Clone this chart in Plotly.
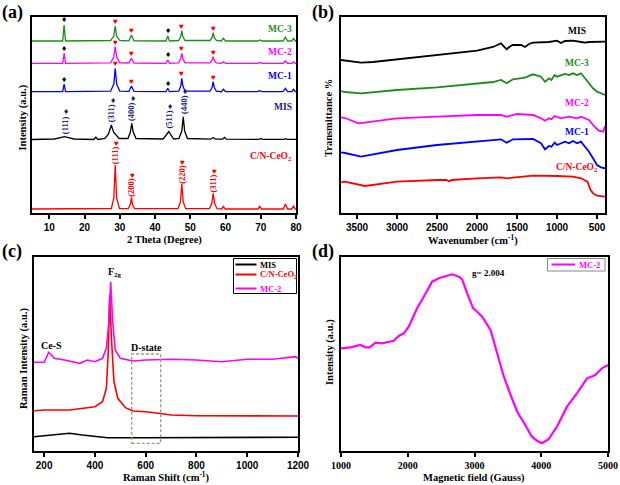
import plotly.graph_objects as go

# ---------------- (a) XRD ----------------
XRD_MC3_X = [5, 13.8, 14.2, 14.6, 27.4, 28.3, 28.7, 29.1, 30.0, 32.6, 33.3, 34.0, 43.1, 43.6, 44.1, 46.7, 47.3, 47.6, 47.9, 48.5,
             55.6, 56.2, 56.5, 56.8, 57.4, 58.8, 59.4, 60.0, 69.1, 69.7, 70.3, 76.3, 77.0, 77.6, 78.8, 79.3, 79.8, 80]
XRD_MC3_Y = [172, 172, 188, 172, 172.5, 177, 187, 177, 172.5, 172.2, 178, 172.2, 172, 177, 172, 172.5, 176.5, 182.3, 176.5, 172.5,
             172.5, 175.5, 180.3, 175.5, 172.5, 172, 174.7, 172, 172, 173, 172, 172, 175.7, 172, 172, 174.5, 172, 172]
XRD_MC2_X = XRD_MC3_X
XRD_MC2_Y = [149.7, 149.7, 159.7, 149.7, 150.2, 156, 166.3, 156, 150.2, 150, 154.7, 150, 149.7, 153, 149.7, 150.2, 154.5, 159.7, 154.5, 150.2,
             150.2, 152.8, 156.3, 152.8, 150.2, 149.7, 151.3, 149.7, 149.7, 150.7, 149.7, 149.7, 152, 149.7, 149.7, 151, 149.7, 149.7]
XRD_MC1_X = XRD_MC3_X
XRD_MC1_Y = [121.3, 121.3, 129, 121.3, 121.8, 129, 144.7, 129, 121.8, 121.6, 127, 121.6, 121.3, 124.7, 121.3, 121.8, 127, 134.7, 127, 121.8,
             121.8, 125.8, 131.3, 125.8, 121.8, 121.3, 123.7, 121.3, 121.3, 122.3, 121.3, 121.3, 124.7, 121.3, 121.3, 123.7, 121.3, 121.3]
XRD_MIS_X = [5, 11.5, 14.3, 17, 22.6, 23.2, 23.8, 25.8, 26.8, 27.6, 28.2, 28.8, 29.8, 32.3, 33.0, 33.4, 33.8, 34.6, 42.3, 43.9, 45.3,
             46.8, 47.6, 48.0, 48.4, 49.2, 55.8, 56.5, 57.2, 59.2, 59.7, 60.2, 69.5, 70.0, 70.5, 76.5, 77.0, 77.5, 80]
XRD_MIS_Y = [73.5, 74, 76.3, 74, 73.5, 75.7, 73.5, 74.5, 79, 88, 81, 78.5, 74.5, 74.5, 81, 89.7, 81, 74.5, 74, 81.3, 74,
             74.5, 82, 96.3, 82, 74.5, 73.8, 75.5, 73.8, 73.8, 75.5, 73.8, 73.6, 74.5, 73.6, 73.6, 74.3, 73.6, 73.6]
XRD_CEO2_X = [5, 27.6, 28.3, 28.7, 29.1, 29.9, 32.4, 33.0, 33.3, 33.6, 34.2, 46.5, 47.2, 47.6, 48.0, 48.7, 55.4, 56.1, 56.5, 56.9,
              57.6, 58.9, 59.4, 59.9, 69.2, 69.7, 70.2, 76.4, 77.0, 77.6, 78.8, 79.3, 79.8, 80]
XRD_CEO2_Y = [4, 4.5, 15, 48, 15, 4.5, 4.3, 8.5, 15.7, 8.5, 4.3, 4.3, 11, 29, 11, 4.3, 4.3, 9.5, 19.7, 9.5,
              4.3, 4, 6.5, 4, 4, 6.5, 4, 4, 9, 4, 4, 7, 4, 4]
CEO2_PEAKS = [28.7, 33.3, 47.6, 56.5]
CEO2_HKL = ["(111)", "(200)", "(220)", "(311)"]
MIS_PEAKS_IN_MC = [14.2, 43.6]
MIS_PEAKS = [14.3, 27.6, 33.4, 43.9, 48.0]
MIS_HKL = ["(111)", "(311)", "(400)", "(511)", "(440)"]

# ---------------- (b) FTIR ----------------
FTIR_MIS_X = [3700, 3650, 3550, 3450, 3300, 3000, 2500, 2000, 1800, 1700, 1630, 1580, 1550, 1450, 1400, 1350, 1300, 1100, 1000, 950, 900, 800, 700, 650, 600, 400]
FTIR_MIS_Y = [153, 152.5, 151, 150.3, 151, 153.7, 158, 162.3, 166, 169.7, 163.7, 167, 168, 168, 166, 169, 170.3, 171, 172.3, 170, 172, 172.3, 171, 170.3, 171, 171.3]
FTIR_MC3_X = [3700, 3650, 3450, 3000, 2500, 2000, 1800, 1700, 1630, 1550, 1400, 1300, 1200, 1150, 1100, 1070, 1030, 1000, 900, 850, 800, 750, 700, 650, 600, 550, 500, 400]
FTIR_MC3_Y = [122, 121, 119.7, 123, 125.7, 129.7, 131, 133, 129.7, 133.7, 135.3, 138.7, 136.3, 131.3, 134.7, 133, 138, 136.3, 139, 138, 139.7, 138, 139.7, 134.7, 129.7, 124.7, 121.3, 118]
FTIR_MC2_X = [3700, 3650, 3480, 3000, 2500, 2000, 1700, 1630, 1500, 1300, 1200, 1150, 1100, 1070, 1030, 950, 850, 750, 700, 600, 550, 480, 420, 400]
FTIR_MC2_Y = [95.7, 95, 89.7, 94.7, 96.3, 98, 98, 96.3, 99, 98, 94.7, 92.3, 94.7, 93.7, 97, 94.7, 96.3, 94.7, 96.3, 93, 88, 82.3, 81.3, 87]
FTIR_MC1_X = [3700, 3650, 3450, 3000, 2500, 2000, 1700, 1630, 1550, 1300, 1200, 1150, 1100, 1070, 1030, 1000, 900, 850, 800, 750, 700, 650, 600, 550, 500, 450, 400]
FTIR_MC1_Y = [60.7, 60, 56.3, 63, 68, 71.3, 73.7, 70.3, 73.7, 74, 69.7, 63.7, 67, 66.3, 70.3, 68, 71.3, 69.7, 72, 69.7, 71.3, 66.3, 61.3, 54.7, 48, 45.7, 44.7]
FTIR_CEO2_X = [3700, 3650, 3400, 3000, 2500, 2380, 2350, 2320, 2000, 1700, 1630, 1300, 1000, 800, 700, 620, 580, 550, 500, 400]
FTIR_CEO2_Y = [30.7, 31.3, 27, 31.3, 33, 33, 31.5, 33, 34.7, 35.7, 34.7, 37.3, 37, 36.3, 34.7, 31.3, 23, 19.7, 17.3, 16.3]
FTIR_LABEL_Y = {"MIS": 182, "MC-3": 150, "MC-2": 110, "MC-1": 81, "C/N-CeO<sub>2</sub>": 46}

# ---------------- (c) Raman ----------------
RAMAN_MC2_X = [160, 200, 218, 240, 280, 340, 370, 400, 430, 445, 455, 462, 470, 480, 500, 550, 600, 700, 800, 900, 1000, 1100, 1190, 1200]
RAMAN_MC2_Y = [88.7, 88.7, 98.7, 92.7, 91, 87.7, 91, 89.3, 92.7, 103, 129.3, 169.3, 129.3, 101, 92.7, 90, 91, 91.7, 91, 89.3, 91.7, 91.7, 94.3, 92.7]
RAMAN_CEO2_X = [160, 200, 300, 400, 430, 445, 452, 458, 465, 475, 490, 520, 550, 600, 650, 700, 800, 1000, 1200]
RAMAN_CEO2_Y = [40.3, 41, 41, 44.3, 49.3, 62.7, 96, 156, 113, 69.3, 52.7, 43.3, 40, 39.3, 37.7, 36, 35.3, 35, 35]
RAMAN_MIS_X = [160, 200, 280, 300, 350, 400, 450, 600, 1200]
RAMAN_MIS_Y = [14.3, 15.3, 17.7, 17.7, 16, 14.3, 13.3, 13.3, 13.7]
DSTATE_BOX = [545, 659, 7.7, 97]

# ---------------- (d) ESR ----------------
ESR_X = [1000, 1140, 1290, 1365, 1430, 1515, 1615, 1790, 1865, 1940, 2015, 2140, 2240, 2365, 2465, 2540, 2665, 2765, 2815, 2890,
         2980, 3040, 3115, 3240, 3340, 3440, 3540, 3640, 3760, 3860, 3935, 4010, 4110, 4235, 4385, 4535, 4685, 4810, 4910, 5000]
ESR_Y = [102.7, 103.7, 106, 103.7, 103.7, 108.3, 107.7, 110.3, 115, 117.7, 124.3, 142.7, 154.3, 169.3, 172.7, 174.3, 176.7, 174.3, 171.7, 157.7,
         142.7, 139.3, 134.3, 121, 97.7, 74.3, 56, 39.3, 26, 14.3, 10.3, 7.7, 11.7, 24.3, 44.3, 57.7, 72.7, 76, 82.7, 86]

GREEN, MAGENTA, BLUE, RED, BLACK = "#1c8c1c", "#ff00ff", "#0000ff", "#ff0000", "#000000"
NAVY = "#1a2380"
SERIF = "Liberation Serif"
SANS = "Liberation Sans"
W, H = 620, 485

fig = go.Figure()

def line(x, y, color, width, ax):
    fig.add_trace(go.Scatter(x=x, y=y, mode="lines", line=dict(color=color, width=width),
                             xaxis="x" + ax, yaxis="y" + ax, showlegend=False, hoverinfo="skip"))

# (a)
for xs, ys, c in [(XRD_MC3_X, XRD_MC3_Y, GREEN), (XRD_MC2_X, XRD_MC2_Y, MAGENTA), (XRD_MC1_X, XRD_MC1_Y, BLUE),
                  (XRD_MIS_X, XRD_MIS_Y, BLACK), (XRD_CEO2_X, XRD_CEO2_Y, RED)]:
    line(xs, ys, c, 1.3, "")
# (b)
for xs, ys, c in [(FTIR_MIS_X, FTIR_MIS_Y, BLACK), (FTIR_MC3_X, FTIR_MC3_Y, GREEN), (FTIR_MC2_X, FTIR_MC2_Y, MAGENTA),
                  (FTIR_MC1_X, FTIR_MC1_Y, BLUE), (FTIR_CEO2_X, FTIR_CEO2_Y, RED)]:
    line(xs, ys, c, 1.8, "2")
# (c)
line(RAMAN_MIS_X, RAMAN_MIS_Y, BLACK, 1.6, "3")
line(RAMAN_CEO2_X, RAMAN_CEO2_Y, RED, 1.6, "3")
line(RAMAN_MC2_X, RAMAN_MC2_Y, MAGENTA, 1.6, "3")
# (d)
line(ESR_X, ESR_Y, MAGENTA, 2.2, "4")

anns = []
shapes = []

def ann(text, x, y, size=10, color="black", xref="paper", yref="paper", angle=0, xa="center", ya="middle", family=SERIF):
    if xref == "paper":
        x = x / W
    if yref == "paper":
        y = 1 - y / H
    anns.append(dict(text=text, x=x, y=y, xref=xref, yref=yref, showarrow=False, textangle=angle,
                     xanchor=xa, yanchor=ya, font=dict(family=family, size=size, color=color, weight="bold")))

# markers and labels for (a)
for xs, ys in [(XRD_MC3_X, XRD_MC3_Y), (XRD_MC2_X, XRD_MC2_Y), (XRD_MC1_X, XRD_MC1_Y)]:
    for p in CEO2_PEAKS:
        ann("♥", p, ys[xs.index(p)] + 4.5, 8, RED, "x", "y")
    for p in MIS_PEAKS_IN_MC:
        ann("♦", p, ys[xs.index(p)] + 4.5, 7, BLACK, "x", "y", family="DejaVu Sans")
for p, hkl in zip(MIS_PEAKS, MIS_HKL):
    top = XRD_MIS_Y[XRD_MIS_X.index(p)]
    ann(hkl, p, top + 12, 8.5, NAVY, "x", "y", angle=-90)
    ann("♦", p + 0.4, top + 24.5, 7, NAVY, "x", "y", family="DejaVu Sans")
for p, hkl in zip(CEO2_PEAKS, CEO2_HKL):
    top = XRD_CEO2_Y[XRD_CEO2_X.index(p)]
    ann(hkl, p, top + 10, 8.5, RED, "x", "y", angle=-90)
    ann("♥", p + 0.3, top + 22, 8, RED, "x", "y")
for txt, yv, c in [("MC-3", 184, GREEN), ("MC-2", 160.5, MAGENTA), ("MC-1", 137.5, BLUE), ("MIS", 106.5, NAVY),
                   ("C/N-CeO<sub>2</sub>", 57, RED)]:
    ann(txt, 79.3, yv, 9.5, c, "x", "y", xa="right")

# labels (b)
for (txt, yv), c in zip(FTIR_LABEL_Y.items(), [BLACK, GREEN, MAGENTA, BLUE, RED]):
    ann(txt, 750, yv, 9.5, c, "x2", "y2")

# labels (c)
ann("Ce-S", 228, 106, 10, BLACK, "x3", "y3")
ann("F<sub>2g</sub>", 480, 179, 10, BLACK, "x3", "y3")
ann("D-state", 602, 104, 10, BLACK, "x3", "y3")
shapes.append(dict(type="rect", xref="x3", yref="y3", x0=DSTATE_BOX[0], x1=DSTATE_BOX[1], y0=DSTATE_BOX[2], y1=DSTATE_BOX[3],
                   line=dict(color="#a3977a", width=1.3, dash="3px,2px")))
# legend (c)
shapes.append(dict(type="rect", xref="paper", yref="paper", x0=233.5 / W, x1=296.5 / W, y0=1 - 293.5 / H, y1=1 - 258.5 / H,
                   line=dict(color="black", width=1), fillcolor="white"))
for txt, yy, c in [("MIS", 264.5, BLACK), ("C/N-CeO<sub>2</sub>", 274.5, RED), ("MC-2", 288.5, MAGENTA)]:
    shapes.append(dict(type="line", xref="paper", yref="paper", x0=235.5 / W, x1=256.5 / W, y0=1 - yy / H, y1=1 - yy / H,
                       line=dict(color=c, width=2)))
    ann(txt, 258, yy, 8.5, c, xa="left")
# legend (d)
shapes.append(dict(type="rect", xref="paper", yref="paper", x0=547.5 / W, x1=605 / W, y0=1 - 271 / H, y1=1 - 258.5 / H,
                   line=dict(color="#888888", width=1), fillcolor="white"))
shapes.append(dict(type="line", xref="paper", yref="paper", x0=551.5 / W, x1=575 / W, y0=1 - 264.5 / H, y1=1 - 264.5 / H,
                   line=dict(color=MAGENTA, width=2)))
ann("MC-2", 577, 264.5, 8.5, MAGENTA, xa="left")
ann("g= 2.004", 3217, 178, 9, BLACK, "x4", "y4")

# axis titles and panel labels
ann("(a)", 12, 12, 18)
ann("(b)", 323, 12, 18)
ann("(c)", 12, 251, 18)
ann("(d)", 323, 251, 18)
ann("Intensity (a.u.)", 22.5, 118, 10.5, angle=-90)
ann("2 Theta (Degree)", 164, 240, 10.5)
ann("Transmittance %", 328.5, 117.5, 10.5, angle=-90)
ann("Wavenumber (cm<sup>-1</sup>)", 473, 240, 10.5)
ann("Raman Intensity (a.u.)", 24, 359, 10.5, angle=-90)
ann("Raman Shift (cm<sup>-1</sup>)", 166, 476.5, 10.5)
ann("Intensity (a.u.)", 329.5, 352.5, 10.5, angle=-90)
ann("Magnetic field (Gauss)", 474, 478, 10.5)

def xax(dom, rng, tickvals, anchor, fam=SANS):
    return dict(domain=dom, range=rng, tickvals=tickvals, anchor=anchor, showline=True, linecolor="black", linewidth=1.5,
                mirror=True, ticks="outside", ticklen=4, tickwidth=1.5, tickcolor="black", showgrid=False, zeroline=False,
                automargin=False, tickfont=dict(family=fam, size=10, color="black", weight="bold"))

def yax(dom, rng, anchor):
    return dict(domain=dom, range=rng, anchor=anchor, showline=True, linecolor="black", linewidth=1.5, mirror=True,
                ticks="", showticklabels=False, showgrid=False, zeroline=False, automargin=False)

yd_top = [1 - 213 / H, 1 - 17 / H]
yd_bot = [1 - 451 / H, 1 - 257 / H]
fig.update_layout(
    width=W, height=H, margin=dict(l=0, r=0, t=0, b=0, pad=0, autoexpand=False), paper_bgcolor="white", plot_bgcolor="white",
    xaxis=xax([31.7 / W, 296 / W], [5, 80], list(range(10, 81, 10)), "y"),
    yaxis=yax(yd_top, [0, 196], "x"),
    xaxis2=xax([341 / W, 605 / W], [3700, 400], list(range(3500, 499, -500)), "y2"),
    yaxis2=yax(yd_top, [0, 196], "x2"),
    xaxis3=xax([34 / W, 298 / W], [160, 1200], list(range(200, 1201, 200)), "y3"),
    yaxis3=yax(yd_bot, [0, 194], "x3"),
    xaxis4=xax([341 / W, 608 / W], [1000, 5000], list(range(1000, 5001, 1000)), "y4", fam=SERIF),
    yaxis4=yax(yd_bot, [0, 194], "x4"),
    annotations=anns, shapes=shapes, showlegend=False,
)
fig.write_html("out.html", config={"displayModeBar": False},
               post_script="document.body.style.margin='0px';document.body.style.overflow='hidden';")
